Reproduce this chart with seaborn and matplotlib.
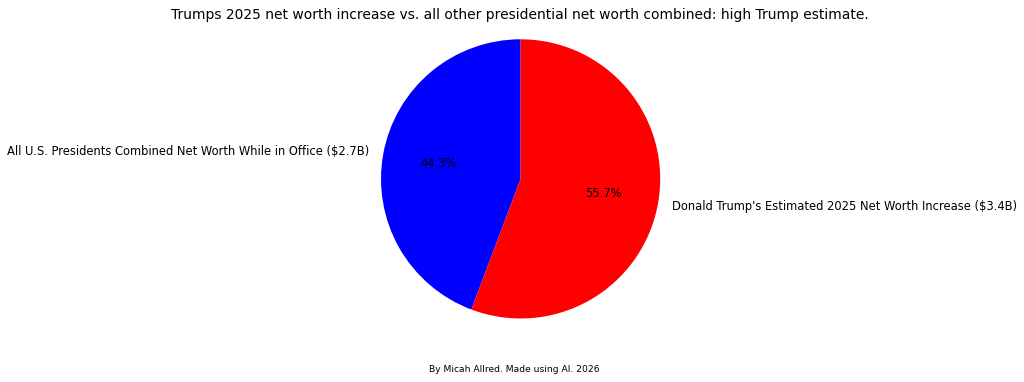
import matplotlib
matplotlib.use("Agg")
import matplotlib.pyplot as plt
import seaborn as sns

labels = [
    "All U.S. Presidents Combined Net Worth While in Office ($2.7B)",
    "Donald Trump's Estimated 2025 Net Worth Increase ($3.4B)",
]
values = [2.7, 3.4]
colors = ["blue", "red"]

sns.set_style("white")
plt.rcParams["font.family"] = ["DejaVu Sans"]
plt.rcParams["text.color"] = "black"

fig = plt.figure(figsize=(10.24, 3.82), dpi=100)
ax = fig.add_axes([0.338, 0.0749, 0.3408, 0.9136])

ax.pie(values, labels=labels, colors=colors, autopct="%1.1f%%", startangle=90,
       wedgeprops={"linewidth": 0}, textprops={"fontsize": 8.3, "color": "black"})
ax.set_aspect("equal")

fig.text(0.508, 0.96, "Trumps 2025 net worth increase vs. all other presidential net worth combined: high Trump estimate.",
         ha="center", va="center", fontsize=10)
fig.text(0.502, 0.034, "By Micah Allred. Made using AI. 2026", ha="center", va="center", fontsize=6.6)

fig.savefig("out.png", dpi=100)
